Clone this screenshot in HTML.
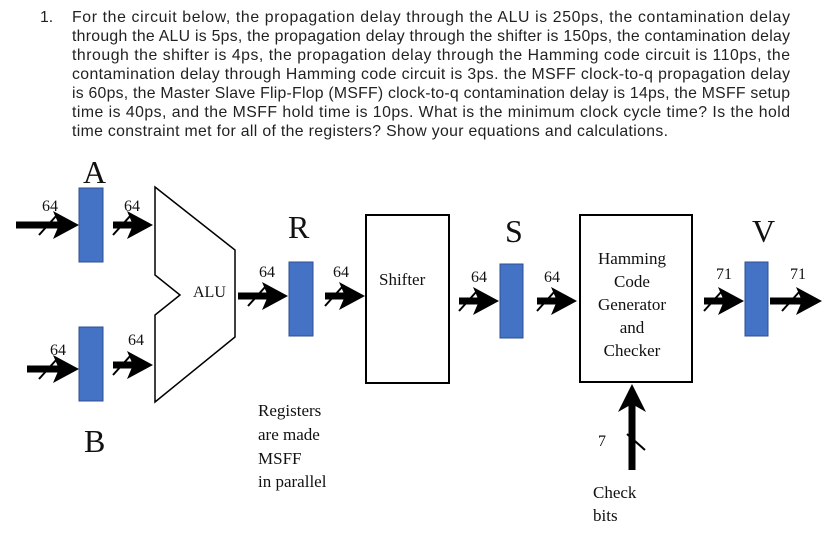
<!DOCTYPE html>
<html><head><style>
body{margin:0;background:#fff;width:834px;height:535px;overflow:hidden}
svg{position:absolute;left:0;top:0}
text{font-family:"Liberation Serif",serif;fill:#111}
.q text{font-family:"Liberation Sans",Arial,sans-serif;font-size:15.8px;fill:#222}
</style></head><body>
<svg width="834" height="535" viewBox="0 0 834 535">
<g class="q">
<text x="40" y="22">1.</text>
<text x="72" y="22" textLength="718" lengthAdjust="spacing">For the circuit below, the propagation delay through the ALU is 250ps, the contamination delay</text>
<text x="72" y="41" textLength="718" lengthAdjust="spacing">through the ALU is 5ps, the propagation delay through the shifter is 150ps, the contamination delay</text>
<text x="72" y="60" textLength="718" lengthAdjust="spacing">through the shifter is 4ps, the propagation delay through the Hamming code circuit is 110ps, the</text>
<text x="72" y="79" textLength="718" lengthAdjust="spacing">contamination delay through Hamming code circuit is 3ps. the MSFF clock-to-q propagation delay</text>
<text x="72" y="98" textLength="718" lengthAdjust="spacing">is 60ps, the Master Slave Flip-Flop (MSFF) clock-to-q contamination delay is 14ps, the MSFF setup</text>
<text x="72" y="117" textLength="718" lengthAdjust="spacing">time is 40ps, and the MSFF hold time is 10ps.  What is the minimum clock cycle time?  Is the hold</text>
<text x="72" y="136" textLength="596" lengthAdjust="spacing">time constraint met for all of the registers? Show your equations and calculations.</text>
</g>
<defs>
<g id="ar"><line x1="-10" y1="0" x2="-40" y2="0" stroke="#000" stroke-width="7"/><polygon points="0,0 -26,-14 -20,0 -26,14" fill="#000"/><line x1="-40" y1="10" x2="-22" y2="-10" stroke="#000" stroke-width="2"/></g>
</defs>
<polygon points="155,187 235,250 235,337 155,402 155,315 180,295 155,275" fill="#fff" stroke="#000" stroke-width="1.5"/>
<g fill="#4472c4" stroke="#2f4f8f" stroke-width="1">
<rect x="79" y="188" width="24" height="74"/><rect x="79" y="327" width="24" height="74"/>
<rect x="289" y="262" width="24" height="74"/><rect x="500" y="264" width="23" height="74"/>
<rect x="745" y="262" width="23" height="74"/></g>
<rect x="366" y="215" width="83" height="168" fill="#fff" stroke="#000" stroke-width="2"/>
<rect x="580" y="215" width="112" height="167" fill="#fff" stroke="#000" stroke-width="2"/>
<line x1="16" y1="225" x2="50" y2="225" stroke="#000" stroke-width="7"/>
<use href="#ar" x="79" y="225"/>
<use href="#ar" x="153" y="225"/>
<line x1="27" y1="369" x2="50" y2="369" stroke="#000" stroke-width="7"/>
<use href="#ar" x="79" y="369"/>
<use href="#ar" x="153" y="365"/>
<line x1="238" y1="296" x2="260" y2="296" stroke="#000" stroke-width="7"/>
<use href="#ar" x="288" y="296"/>
<use href="#ar" x="365" y="296"/>
<use href="#ar" x="499" y="301"/>
<use href="#ar" x="577" y="301"/>
<use href="#ar" x="744" y="301"/>
<line x1="770" y1="301" x2="790" y2="301" stroke="#000" stroke-width="7"/>
<use href="#ar" x="822" y="301"/>
<line x1="632" y1="470" x2="632" y2="400" stroke="#000" stroke-width="7"/>
<polygon points="632,384 618,412 632,404 646,412" fill="#000"/>
<line x1="627" y1="434" x2="645" y2="450" stroke="#000" stroke-width="2"/>
<g font-size="32"><text x="83" y="183">A</text><text x="288" y="238">R</text><text x="505" y="242">S</text><text x="752" y="242">V</text><text x="84" y="452">B</text></g>
<g font-size="16"><text x="42" y="211">64</text><text x="124" y="211">64</text><text x="50" y="355">64</text><text x="128" y="345">64</text>
<text x="259" y="277">64</text><text x="333" y="277">64</text><text x="471" y="282">64</text><text x="544" y="282">64</text>
<text x="716" y="279">71</text><text x="790" y="279">71</text><text x="598" y="446">7</text></g>
<text x="193" y="297" font-size="16">ALU</text>
<text x="379" y="285" font-size="17">Shifter</text>
<g font-size="17" text-anchor="middle"><text x="632" y="264">Hamming</text><text x="632" y="287">Code</text><text x="632" y="310">Generator</text><text x="632" y="333">and</text><text x="632" y="356">Checker</text></g>
<g font-size="17"><text x="258" y="416">Registers</text><text x="258" y="440">are made</text><text x="258" y="464">MSFF</text><text x="258" y="487">in parallel</text>
<text x="593" y="498">Check</text><text x="593" y="521">bits</text></g>
</svg>
</body></html>
